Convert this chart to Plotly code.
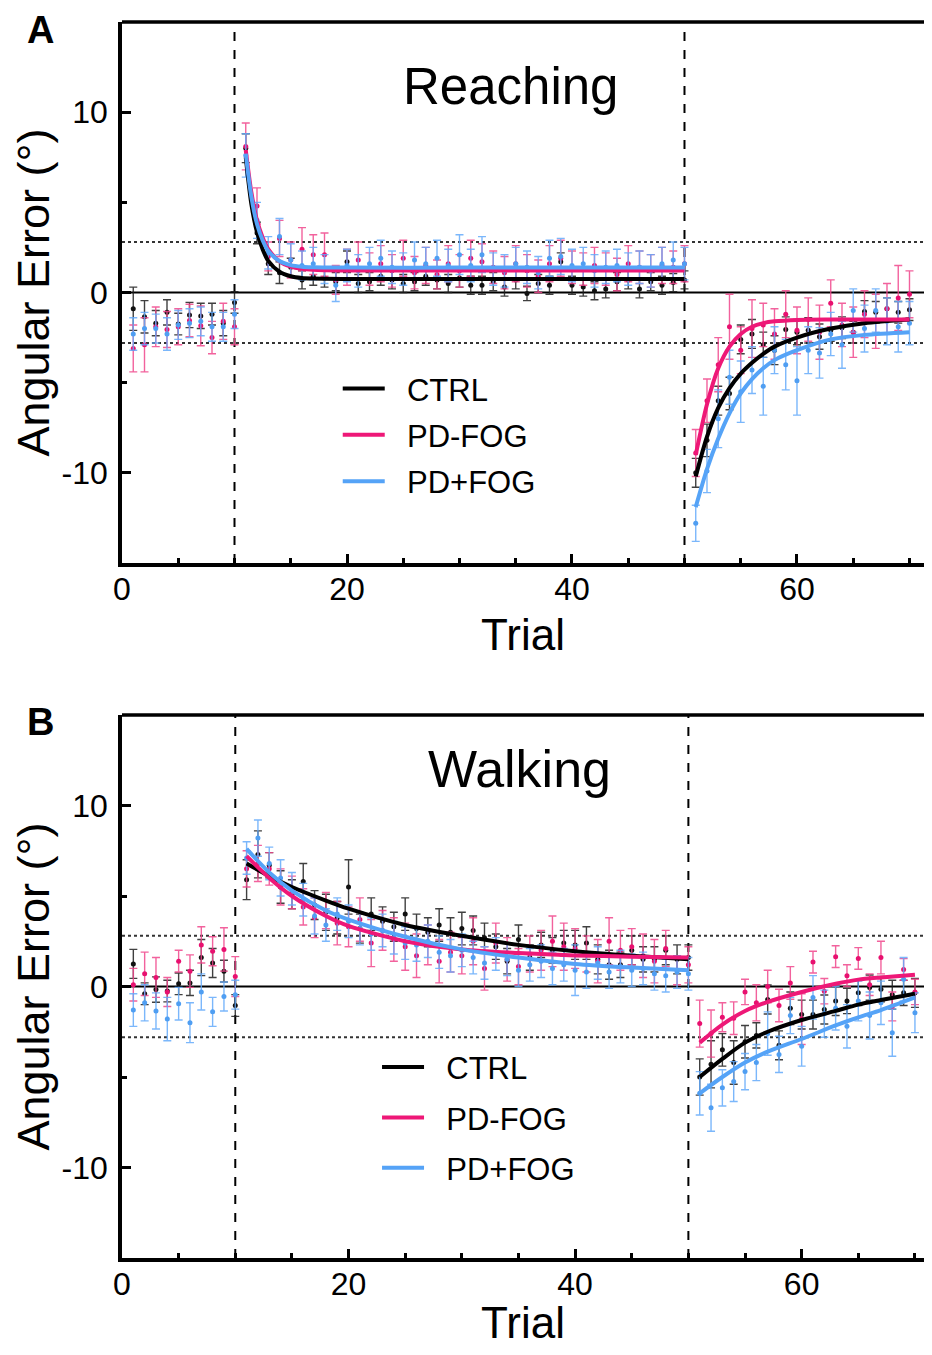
import plotly.graph_objects as go

trials = list(range(1, 71))
groups = ["CTRL", "PD-FOG", "PD+FOG"]

# ---------------- Panel A: Reaching ----------------
ctrl_A = [-0.9, -1.35, -1.7, -1.1, -1.75, -1.25, -1.3, -1.2, -1.7, -0.55,
          8.0, 3.3, 1.6, 1.1, 1.4, 0.7, 0.9, 0.8, 0.6, 1.7,
          0.5, 0.6, 0.9, 0.7, 0.5, 0.6, 0.9, 0.7, 0.5, 0.8,
          0.4, 0.4, 0.6, 0.3, 0.7, -0.05, 0.5, 0.4, 1.7, 0.4,
          0.3, 0.1, 0.2, 0.6, 0.7, 0.2, 0.6, 0.4, 0.55, 0.7,
          -10.0, -8.2, -6.0, -5.6, -2.6, -2.3, -2.9, -3.2, -2.05, -2.2,
          -2.1, -2.45, -2.1, -1.95, -2.2, -1.05, -1.1, -0.9, -1.1, -0.95]
ctrl_A_err = [1.2, 0.9, 0.7, 0.7, 0.6, 0.7, 0.7, 0.6, 0.7, 0.6,
              0.8, 0.6, 0.6, 0.6, 0.5, 0.5, 0.5, 0.5, 0.5, 0.6,
              0.5, 0.5, 0.5, 0.5, 0.5, 0.5, 0.5, 0.5, 0.5, 0.5,
              0.5, 0.5, 0.5, 0.5, 0.5, 0.4, 0.5, 0.5, 0.5, 0.5,
              0.5, 0.5, 0.5, 0.5, 0.5, 0.5, 0.5, 0.5, 0.5, 0.5,
              0.8, 0.9, 0.8, 0.9, 0.8, 0.8, 0.7, 0.8, 0.7, 0.7,
              0.7, 0.7, 0.6, 0.6, 0.6, 0.6, 0.6, 0.6, 0.6, 0.6]
red_A = [-3.1, -2.9, -1.9, -2.05, -1.9, -1.55, -1.85, -2.5, -1.6, -1.9,
         8.1, 4.8, 2.0, 3.0, 1.8, 2.4, 2.1, 2.1, 0.7, 1.4,
         1.8, 1.3, 1.6, 1.2, 1.9, 1.1, 1.5, 1.0, 1.6, 1.2,
         1.9, 1.7, 1.4, 1.1, 1.6, 1.2, 0.9, 1.6, 1.9, 1.4,
         1.3, 1.5, 1.3, 1.0, 1.6, 1.4, 1.2, 1.5, 1.4, 1.6,
         -8.9, -6.0, -4.0, -1.9, -3.2, -2.0, -1.8, -2.3, -1.2, -2.1,
         -1.5, -2.2, -0.6, -1.8, -2.2, -1.2, -1.6, -0.9, -0.3, -0.1]
red_A_err = [1.3, 1.5, 1.1, 1.0, 1.0, 0.9, 1.1, 0.9, 1.0, 1.0,
             1.3, 1.0, 0.8, 1.0, 1.0, 1.2, 1.1, 1.2, 0.8, 1.0,
             1.0, 0.9, 1.0, 0.9, 1.0, 0.9, 1.0, 0.8, 1.0, 0.9,
             1.0, 1.0, 0.9, 0.9, 1.0, 0.9, 0.9, 1.0, 1.0, 0.9,
             0.9, 1.0, 0.9, 0.9, 1.0, 0.9, 0.9, 1.0, 0.9, 1.0,
             1.3, 1.2, 1.5, 1.8, 1.3, 1.6, 1.2, 1.4, 1.3, 1.3,
             1.2, 1.5, 1.3, 1.2, 1.4, 1.3, 1.5, 1.4, 1.8, 1.3]
blue_A = [-2.3, -2.0, -2.0, -2.3, -1.8, -1.7, -1.6, -1.9, -1.9, -1.2,
          7.6, 4.0, 2.2, 3.1, 1.8, 1.5, 1.6, 1.3, 0.4, 1.5,
          1.2, 1.6, 1.9, 1.4, 1.3, 1.8, 1.6, 1.9, 1.5, 2.1,
          1.5, 2.1, 1.3, 1.2, 1.6, 1.4, 1.1, 1.9, 2.0, 1.5,
          1.6, 1.2, 1.4, 1.5, 1.3, 1.4, 1.2, 1.6, 1.8, 1.6,
          -12.8, -9.9, -7.0, -4.7, -5.5, -4.3, -5.2, -3.2, -4.0, -4.9,
          -3.2, -3.35, -2.3, -2.9, -1.0, -2.0, -1.0, -1.6, -1.9, -1.7]
blue_A_err = [0.9, 0.9, 0.8, 0.9, 0.8, 0.8, 0.8, 0.8, 0.8, 0.8,
              1.2, 1.0, 0.9, 1.0, 0.9, 0.8, 0.9, 0.8, 0.9, 0.9,
              0.9, 0.9, 1.0, 0.9, 0.9, 1.0, 0.9, 1.0, 0.9, 1.1,
              0.9, 1.0, 0.9, 0.9, 0.9, 0.9, 0.9, 1.0, 1.0, 0.9,
              0.9, 0.9, 0.9, 0.9, 0.9, 0.9, 0.9, 0.9, 1.0, 0.9,
              1.0, 1.2, 1.6, 1.5, 1.7, 1.3, 1.6, 1.3, 1.4, 1.9,
              1.3, 1.4, 1.2, 1.3, 1.2, 1.3, 1.2, 1.3, 1.4, 1.2]

fitA_x_adapt = [11, 11.5, 12, 12.5, 13, 14, 15, 16, 17, 18, 20, 30, 40, 50]
fitA_ctrl_adapt = [7.5, 4.9, 3.35, 2.4, 1.75, 1.15, 0.9, 0.8, 0.77, 0.76, 0.75, 0.75, 0.75, 0.75]
fitA_red_adapt = [7.9, 5.55, 4.0, 3.05, 2.4, 1.72, 1.43, 1.31, 1.26, 1.24, 1.22, 1.22, 1.22, 1.22]
fitA_blue_adapt = [7.7, 5.3, 3.8, 2.9, 2.3, 1.75, 1.52, 1.43, 1.4, 1.39, 1.38, 1.38, 1.38, 1.38]
fitA_x_wash = [51, 52, 53, 54, 55, 56, 57, 58, 60, 63, 66, 70]
fitA_ctrl_wash = [-10.2, -8.0, -6.4, -5.3, -4.5, -3.9, -3.4, -3.0, -2.5, -2.0, -1.7, -1.5]
fitA_red_wash = [-9.0, -6.2, -4.2, -3.0, -2.3, -1.9, -1.7, -1.6, -1.52, -1.5, -1.5, -1.5]
fitA_blue_wash = [-11.9, -9.8, -8.1, -6.7, -5.6, -4.8, -4.2, -3.75, -3.2, -2.6, -2.35, -2.2]

# ---------------- Panel B: Walking ----------------
ctrl_B = [1.25, -0.4, -0.17, -0.25, 0.15, 0.2, 1.6, 1.3, 0.85, -1.05,
          5.9, 7.3, 6.7, 5.5, 5.1, 5.8, 4.5, 4.1, 3.8, 5.5,
          3.2, 4.0, 3.6, 3.3, 4.0, 3.2, 3.0, 3.4, 3.0, 3.2,
          3.1, 2.7, 2.2, 1.4, 2.6, 1.6, 2.3, 2.0, 2.4, 2.3,
          2.4, 1.5, 1.2, 1.2, 2.0, 1.5, 1.5, 2.0, 1.5, 1.6,
          -5.0, -4.3, -3.5, -4.2, -3.05, -2.7, -0.72, -3.25, -1.2, -1.55,
          -1.55, -1.27, -0.8, -0.8, -0.35, -0.06, -0.15, -0.45, -0.35, -0.35]
ctrl_B_err = [0.8, 0.6, 0.7, 0.6, 0.6, 0.7, 1.0, 0.8, 0.6, 0.6,
              1.1, 1.3, 0.7, 0.9, 0.8, 1.0, 0.8, 1.0, 0.9, 1.5,
              0.8, 0.9, 0.8, 0.8, 0.9, 0.8, 0.8, 0.9, 0.8, 0.9,
              0.8, 0.8, 0.7, 0.7, 0.8, 0.7, 0.7, 0.7, 0.7, 0.8,
              0.9, 0.8, 0.8, 0.7, 0.8, 0.7, 0.7, 0.8, 0.8, 0.7,
              1.0, 1.3, 0.9, 1.2, 0.9, 0.7, 0.8, 0.8, 0.9, 0.8,
              0.8, 0.8, 0.8, 0.7, 0.7, 0.7, 0.7, 0.8, 0.7, 0.8]
red_B = [0.1, 0.7, 0.5, -0.3, 1.4, 0.85, 2.3, 1.95, 2.05, 0.55,
         6.5, 6.8, 6.5, 5.5, 5.2, 4.4, 3.8, 4.2, 3.5, 3.3,
         3.7, 2.4, 3.1, 2.6, 2.2, 1.7, 2.3, 1.4, 1.9, 1.7,
         2.5, 1.0, 2.4, 1.5, 1.1, 1.8, 2.0, 2.5, 2.2, 2.1,
         1.8, 1.4, 2.5, 2.0, 2.2, 1.7, 1.4, 2.1, 0.9, 1.2,
         -2.05, -2.6, -1.7, -1.75, -0.3, -0.9, 0.0, -1.05, 0.2, -1.8,
         1.35, -0.26, 1.65, 0.6, 1.55, 0.1, 1.6, -1.1, 0.94, -0.3]
red_B_err = [0.9, 1.2, 1.1, 0.8, 0.6, 0.9, 1.0, 0.8, 1.2, 1.1,
             1.0, 1.0, 0.9, 1.0, 0.9, 1.0, 1.1, 1.0, 1.2, 1.1,
             1.2, 1.3, 1.1, 1.2, 1.3, 1.2, 1.1, 1.2, 1.1, 1.0,
             1.3, 1.2, 1.1, 1.2, 1.0, 1.0, 1.1, 1.4, 1.3, 1.1,
             1.0, 1.2, 1.3, 1.1, 1.0, 1.2, 1.2, 1.0, 0.8, 1.0,
             1.3, 1.3, 0.8, 0.9, 0.7, 1.0, 0.9, 0.9, 0.9, 1.4,
             0.6, 0.7, 0.6, 0.6, 0.6, 0.6, 0.9, 0.8, 0.6, 0.7]
blue_B = [-1.3, -0.9, -1.35, -1.8, -0.95, -2.0, -0.3, -1.4, -0.55, -0.45,
          7.1, 8.2, 6.8, 6.0, 5.4, 4.8, 3.9, 3.4, 4.0, 3.6,
          3.2, 2.9, 3.1, 2.7, 2.4, 2.3, 2.5, 1.9, 1.7, 2.0,
          1.6, 1.3, 1.8, 1.5, 0.9, 1.2, 1.4, 1.0, 1.2, 0.9,
          0.8, 1.3, 0.8, 1.1, 0.9, 1.0, 0.7, 0.6, 0.8, 0.7,
          -5.9, -6.7, -5.6, -5.25, -4.7, -4.2, -2.6, -3.75, -1.6, -3.3,
          -0.6, -1.5, -1.2, -2.2, -0.8, -1.6, -0.9, -2.55, 0.4, -1.45]
blue_B_err = [0.9, 1.0, 1.0, 1.2, 0.9, 1.1, 1.0, 0.8, 0.8, 0.8,
              0.9, 1.0, 0.9, 1.0, 0.9, 0.9, 1.0, 0.9, 0.9, 0.9,
              0.9, 0.9, 0.9, 0.9, 0.9, 0.9, 0.9, 0.9, 0.9, 0.9,
              0.9, 0.9, 0.9, 0.9, 0.9, 0.9, 0.9, 0.9, 0.9, 1.4,
              0.9, 0.9, 0.9, 0.9, 0.9, 0.9, 0.9, 0.9, 0.9, 0.9,
              1.2, 1.3, 1.0, 1.1, 1.0, 1.0, 1.2, 1.0, 1.0, 1.1,
              1.2, 1.3, 1.2, 1.2, 1.1, 1.3, 1.2, 1.3, 1.2, 1.1]

fitB_x_adapt = [11, 13, 15, 18, 20, 25, 30, 35, 40, 45, 50]
fitB_ctrl_adapt = [6.8, 6.1, 5.5, 4.75, 4.3, 3.4, 2.8, 2.3, 1.95, 1.7, 1.5]
fitB_red_adapt = [7.2, 6.0, 5.0, 3.9, 3.35, 2.5, 2.05, 1.85, 1.72, 1.65, 1.6]
fitB_blue_adapt = [7.6, 6.3, 5.3, 4.2, 3.7, 2.75, 2.05, 1.6, 1.25, 1.05, 0.9]
fitB_x_wash = [51, 53, 55, 57, 60, 63, 65, 67, 70]
fitB_ctrl_wash = [-5.0, -4.0, -3.1, -2.5, -1.85, -1.35, -1.0, -0.75, -0.4]
fitB_red_wash = [-3.1, -2.1, -1.35, -0.85, -0.3, 0.15, 0.38, 0.5, 0.65]
fitB_blue_wash = [-5.9, -5.0, -4.2, -3.6, -2.9, -2.15, -1.7, -1.3, -0.6]

y_ticks = [-10, 0, 10]
y_ticktext = ["-10", "0", "10"]
x_ticks = [0, 20, 40, 60]
band = 2.8

line_colors = {"CTRL": "#000000", "PD-FOG": "#ee1877", "PD+FOG": "#55a3f7"}
err_colors = {"CTRL": "rgba(30,30,30,0.85)", "PD-FOG": "rgba(240,70,140,0.85)",
              "PD+FOG": "rgba(100,170,250,0.85)"}
dot_colors = {"CTRL": "#111111", "PD-FOG": "#e8106f", "PD+FOG": "#4f9ef2"}

FONT = "Arial, Liberation Sans, sans-serif"

fig = go.Figure()

panels = [
    dict(xa="x", ya="y", legend="legend",
         data={"CTRL": (ctrl_A, ctrl_A_err), "PD-FOG": (red_A, red_A_err), "PD+FOG": (blue_A, blue_A_err)},
         fit_x=(fitA_x_adapt, fitA_x_wash),
         fits={"CTRL": (fitA_ctrl_adapt, fitA_ctrl_wash), "PD-FOG": (fitA_red_adapt, fitA_red_wash),
               "PD+FOG": (fitA_blue_adapt, fitA_blue_wash)}),
    dict(xa="x2", ya="y2", legend="legend2",
         data={"CTRL": (ctrl_B, ctrl_B_err), "PD-FOG": (red_B, red_B_err), "PD+FOG": (blue_B, blue_B_err)},
         fit_x=(fitB_x_adapt, fitB_x_wash),
         fits={"CTRL": (fitB_ctrl_adapt, fitB_ctrl_wash), "PD-FOG": (fitB_red_adapt, fitB_red_wash),
               "PD+FOG": (fitB_blue_adapt, fitB_blue_wash)}),
]

for p in panels:
    for g in groups:
        vals, errs = p["data"][g]
        fig.add_trace(go.Scatter(
            x=trials, y=vals, mode="markers", xaxis=p["xa"], yaxis=p["ya"],
            marker=dict(size=5, color=dot_colors[g]),
            error_y=dict(type="data", array=errs, visible=True, color=err_colors[g],
                         thickness=1.4, width=4),
            showlegend=False, hoverinfo="skip"))
    for g in groups:
        ya, yw = p["fits"][g]
        xa_, xw_ = p["fit_x"]
        fig.add_trace(go.Scatter(
            x=list(xa_) + [None] + list(xw_), y=list(ya) + [None] + list(yw),
            mode="lines", line=dict(color=line_colors[g], width=4, shape="spline", smoothing=0.8),
            xaxis=p["xa"], yaxis=p["ya"], name="\u00a0\u00a0" + g,
            legend=p["legend"], legendgroup=p["legend"] + g, connectgaps=False))

axis_common = dict(showline=True, linecolor="black", linewidth=3.5, ticks="inside",
                   tickcolor="black", tickwidth=2.5, ticklen=9, showgrid=False, zeroline=False,
                   automargin=False,
                   tickfont=dict(family=FONT, size=32, color="black"))
minor_common = dict(dtick=5, ticks="inside", ticklen=5, tickwidth=2.5, tickcolor="black")

# page body has an 8px margin: figure is sized to fit the 932x1355 window exactly
fig.update_layout(
    width=916, height=1339,
    margin=dict(l=114, r=0, t=14, b=89),
    paper_bgcolor="white", plot_bgcolor="white",
    font=dict(family=FONT, color="black"),
    xaxis=dict(domain=[0, 1], anchor="y", range=[0, 71.29], tickvals=x_ticks, minor=minor_common,
               title=dict(text="Trial", font=dict(size=44), standoff=14), ticklabelstandoff=-5,
               **axis_common),
    yaxis=dict(domain=[0.5623, 1], anchor="x", range=[-15, 15], tickvals=y_ticks, ticktext=y_ticktext,
               minor=minor_common,
               title=dict(text="Angular Error (°)", font=dict(size=45), standoff=8), ticklabelstandoff=4,
               **axis_common),
    xaxis2=dict(domain=[0, 1], anchor="y2", range=[0, 70.8], tickvals=x_ticks, minor=minor_common,
                title=dict(text="Trial", font=dict(size=44), standoff=14), ticklabelstandoff=-5,
                **axis_common),
    yaxis2=dict(domain=[0, 0.4393], anchor="x2", range=[-15, 15], tickvals=y_ticks, ticktext=y_ticktext,
                minor=minor_common,
                title=dict(text="Angular Error (°)", font=dict(size=45), standoff=8), ticklabelstandoff=4,
                **axis_common),
    legend=dict(x=0.269, y=0.725, xanchor="left", yanchor="top", bgcolor="rgba(0,0,0,0)",
                font=dict(family=FONT, size=31, color="black"), itemwidth=42, tracegroupgap=3),
    legend2=dict(x=0.318, y=0.176, xanchor="left", yanchor="top", bgcolor="rgba(0,0,0,0)",
                 font=dict(family=FONT, size=31, color="black"), itemwidth=42, tracegroupgap=7),
)

shapes = []
for xa, ya in [("x", "y"), ("x2", "y2")]:
    shapes.append(dict(type="line", xref=f"{xa} domain", yref=ya, x0=0, x1=1, y0=0, y1=0,
                       line=dict(color="black", width=1.8), layer="below"))
    for yv in (band, -band):
        shapes.append(dict(type="line", xref=f"{xa} domain", yref=ya, x0=0, x1=1, y0=yv, y1=yv,
                           line=dict(color="#333333", width=2, dash="dot"), layer="below"))
    for xv in (10, 50):
        shapes.append(dict(type="line", xref=xa, yref=f"{ya} domain", x0=xv, x1=xv, y0=0, y1=1,
                           line=dict(color="black", width=2, dash="dash"), layer="below"))
    shapes.append(dict(type="line", xref=f"{xa} domain", yref=f"{ya} domain", x0=0, x1=1, y0=1, y1=1,
                       line=dict(color="black", width=3.5)))
fig.update_layout(shapes=shapes)

fig.add_annotation(x=34.5, y=11.4, xref="x", yref="y", text="Reaching", showarrow=False,
                   font=dict(family=FONT, size=51, color="black"))
fig.add_annotation(x=35.1, y=12.0, xref="x2", yref="y2", text="Walking", showarrow=False,
                   font=dict(family=FONT, size=52, color="black"))
fig.add_annotation(x=-0.1022, y=0.9935, xref="paper", yref="paper", text="<b>A</b>", showarrow=False,
                   xanchor="center", yanchor="middle", font=dict(family=FONT, size=38, color="black"))
fig.add_annotation(x=-0.1022, y=0.4337, xref="paper", yref="paper", text="<b>B</b>", showarrow=False,
                   xanchor="center", yanchor="middle", font=dict(family=FONT, size=38, color="black"))

fig.write_html("out.html")
